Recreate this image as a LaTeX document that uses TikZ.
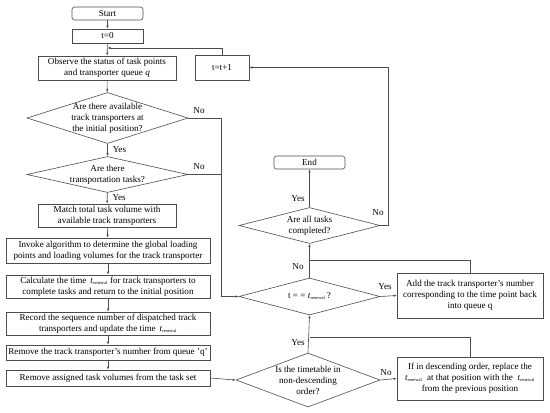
\documentclass[tikz,border=0pt]{standalone}
\usepackage{fontspec}
\setmainfont{Liberation Serif}
\usetikzlibrary{shapes.geometric,arrows.meta}
\newcommand{\tren}{\textit{t}\textsubscript{\fontsize{4.5pt}{5pt}\selectfont renewal}}
\begin{document}
\begin{tikzpicture}[x=1pt,y=-1pt,
  every node/.style={font=\fontsize{9.1pt}{11pt}\selectfont, text=black},
  box/.style={draw=black!70, line width=0.6pt, inner sep=0pt, align=center},
  rbox/.style={box, rounded corners=2.5pt},
  dia/.style={draw=black!70, line width=0.6pt, diamond, inner sep=0pt},
  ln/.style={draw=black!70, line width=0.6pt},
  arr/.style={ln, -{Latex[length=3pt,width=2.4pt]}},
  lab/.style={inner sep=0pt}]
\useasboundingbox (0,0) rectangle (550,413);
% left column
\node[rbox, minimum width=71pt, minimum height=13pt] (start) at (107.5,13.5) {Start};
\node[box, minimum width=71pt, minimum height=14pt] (t0) at (107.5,36) {t=0};
\node[box, minimum width=138pt, minimum height=24pt] (obs) at (107,68) {Observe the status of task points\\and transporter queue \textit{q}};
\node[box, minimum width=54pt, minimum height=25pt] (tt1) at (222,67.5) {t=t+1};
\node[dia, minimum width=161pt, minimum height=51pt] (d1) at (107.5,118) {};
\node[align=center, lab] at (d1) {Are there available\\track transporters at\\the initial position?};
\node[dia, minimum width=161pt, minimum height=36pt] (d2) at (107.5,174.5) {};
\node[align=center, lab] at (d2) {Are there\\transportation tasks?};
\node[box, minimum width=138pt, minimum height=23pt] (match) at (107,215.5) {Match total task volume with\\available track transporters};
\node[box, minimum width=204pt, minimum height=25pt] (inv) at (108,250.5) {Invoke algorithm to determine the global loading\\points and loading volumes for the track transporter};
\node[box, minimum width=204pt, minimum height=23pt] (calc) at (108,286.5) {Calculate the time \,\tren\ for track transporters to\\complete tasks and return to the initial position};
\node[box, minimum width=204pt, minimum height=23pt] (rec) at (108,323.5) {Record the sequence number of dispatched track\\transporters and update the time \,\tren};
\node[box, minimum width=204pt, minimum height=15pt] (remq) at (108,352.5) {Remove the track transporter's number from queue 'q'};
\node[box, minimum width=204pt, minimum height=16pt] (remt) at (108,378) {Remove assigned task volumes from the task set};
% right column
\node[rbox, minimum width=71pt, minimum height=13pt] (end) at (309.5,162.5) {End};
\node[dia, minimum width=141pt, minimum height=36pt] (d5) at (309.5,225.5) {};
\node[align=center, lab] at (d5) {Are all tasks\\completed?};
\node[dia, minimum width=141pt, minimum height=37pt] (d3) at (309.5,296.5) {};
\node[lab] at (d3) {t = = \tren\,?};
\node[box, minimum width=146pt, minimum height=45pt] (add) at (470,295.5) {Add the track transporter's number\\corresponding to the time point back\\into queue q};
\node[dia, minimum width=144pt, minimum height=54pt] (d4) at (308,380) {};
\node[align=center, lab] at (d4) {Is the timetable in\\non-descending\\order?};
\node[box, minimum width=146pt, minimum height=43pt] (ifb) at (470,378.5) {If in descending order, replace the\\\tren\ \ at that position with the \ \tren\\from the previous position};
% coordinates
\coordinate (j1) at (107.5,48);
\coordinate (c1) at (221,118);
\coordinate (c2) at (221,296.5);
\coordinate (j2) at (309.5,260);
\coordinate (j3) at (309.5,337);
\coordinate (c3) at (388,225.5);
\coordinate (c4) at (388,67.5);
% connectors
\draw[arr] (start) -- (t0);
\draw[arr] (t0) -- (obs);
\draw[arr] (tt1.north) |- (j1);
\draw[arr] (obs) -- (d1);
\draw[arr] (d1) -- (d2) node[pos=0.5, right=5pt, lab] {Yes};
\draw[arr] (d2) -- (match) node[pos=0.45, right=5pt, lab] {Yes};
\draw[arr] (match) -- (inv);
\draw[arr] (inv) -- (calc);
\draw[arr] (calc) -- (rec);
\draw[arr] (rec) -- (remq);
\draw[arr] (remq) -- (remt);
\draw[ln] (d1.east) -- (c1);
\draw[arr] (c1) -- (c2) -- (d3.west);
\node[lab] at (199,111) {No};
\draw[ln] (d2.east) -- (221,174.5);
\node[lab] at (199,167) {No};
\draw[arr] (remt.east) -- (d4.west);
\draw[arr] (d4.north) -- (d3.south);
\node[lab] at (298,343) {Yes};
\draw[arr] (d4.east) -- (ifb.west);
\node[lab] at (386,373) {No};
\draw[ln] (ifb.north) |- (j3);
\draw[arr] (d3.east) -- (add.west);
\node[lab] at (385,287) {Yes};
\draw[arr] (d3.north) -- (d5.south);
\node[lab] at (298,267) {No};
\draw[ln] (add.north) |- (j2);
\draw[arr] (d5.north) -- (end.south);
\node[lab] at (298,199) {Yes};
\draw[ln] (d5.east) -- (c3);
\draw[arr] (c3) -- (c4) -- (tt1.east);
\node[lab] at (378,213) {No};
\end{tikzpicture}
\end{document}
